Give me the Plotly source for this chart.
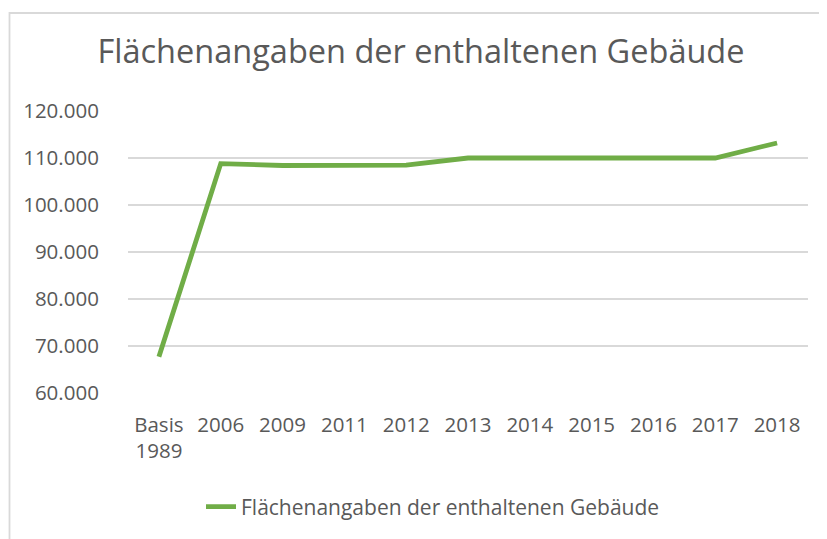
import plotly.graph_objects as go

categories = ["Basis<br>1989", "2006", "2009", "2011", "2012", "2013", "2014", "2015", "2016", "2017", "2018"]
values = [67700, 108800, 108400, 108400, 108500, 110000, 110000, 110000, 110000, 110000, 113200]
series_name = "Flächenangaben der enthaltenen Gebäude"
title_text = "Flächenangaben der enthaltenen Gebäude"
y_ticks = [60000, 70000, 80000, 90000, 100000, 110000, 120000]
y_tick_labels = ["60.000", "70.000", "80.000", "90.000", "100.000", "110.000", "120.000"]

TEXT = "#595959"
GRID = "#d9d9d9"
GREEN = "#70AD47"
FONT = "Open Sans"

fig = go.Figure()
fig.add_trace(go.Scatter(
    x=categories, y=values, mode="lines", name=series_name,
    line=dict(color=GREEN, width=4.8),
))

OFF = 8  # page body margin
W, H = 827 - OFF, 539 - OFF
L, R, T, B = 128 - OFF, 19, 111 - OFF, 146
pw, ph = W - L - R, H - T - B

def py(y_pix):
    # convert reference pixel y to paper coords
    return (393 - y_pix) / ph

def px(x_pix):
    return (x_pix - 128) / pw

fig.update_layout(
    width=W, height=H,
    margin=dict(l=L, r=R, t=T, b=B),
    paper_bgcolor="white", plot_bgcolor="white",
    font=dict(family=FONT, color=TEXT, size=21),
    title=dict(text=title_text, x=px(421) * pw / W + L / W, xanchor="center",
               y=1 - (52 - OFF) / H, yanchor="middle",
               font=dict(family=FONT, size=32.5, color=TEXT)),
    showlegend=True,
    legend=dict(orientation="h", x=px(433), xanchor="center", y=py(507), yanchor="middle",
                font=dict(family=FONT, size=21, color=TEXT)),
    xaxis=dict(type="category", range=[-0.5, len(categories) - 0.5],
               showgrid=False, zeroline=False, showline=False,
               ticks="outside", ticklen=13, tickcolor="rgba(0,0,0,0)",
               tickfont=dict(family=FONT, size=20.5, color=TEXT)),
    yaxis=dict(range=[60000, 120000], tickvals=y_ticks, ticktext=y_tick_labels,
               showgrid=True, gridcolor=GRID, gridwidth=1.5, zeroline=False, showline=False,
               ticks="outside", ticklen=24, tickcolor="rgba(0,0,0,0)",
               tickfont=dict(family=FONT, size=20.5, color=TEXT)),
    shapes=[dict(type="rect", xref="paper", yref="paper",
                 x0=px(9.5), x1=px(840),
                 y0=py(550), y1=py(13),
                 line=dict(color=GRID, width=1.8), fillcolor="rgba(0,0,0,0)", layer="below")],
)

fig.write_html("out.html")
